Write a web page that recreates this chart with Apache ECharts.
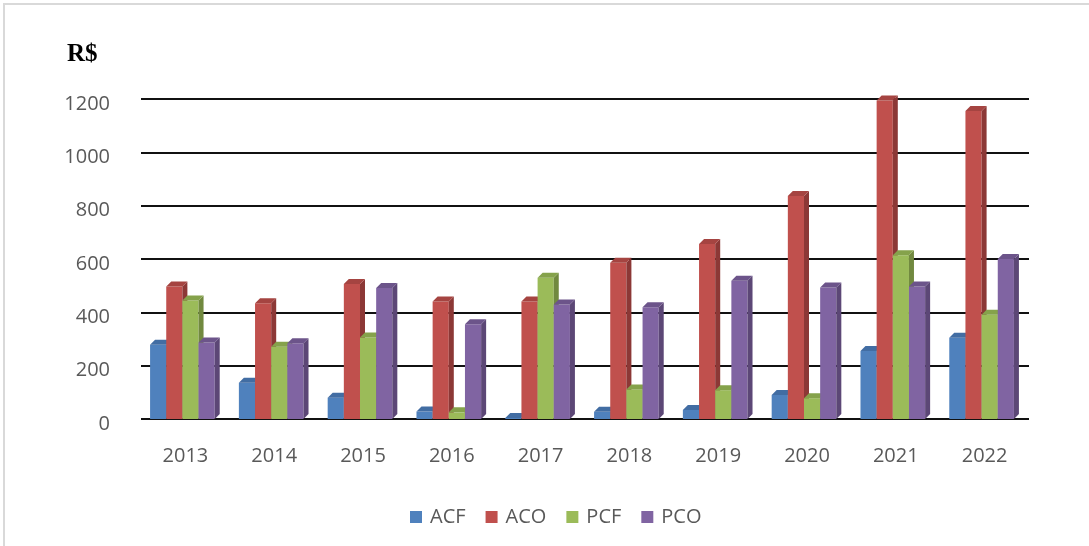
<!DOCTYPE html>
<html>
<head>
<meta charset="utf-8">
<script src="https://cdn.jsdelivr.net/npm/echarts@6/dist/echarts.min.js"></script>
<style>
  html, body { margin: 0; padding: 0; background: #fff; }
  #chart { position: absolute; left: 3px; top: 3px; width: 1086px; height: 543px;
           border-left: 2px solid #d9d9d9; border-top: 2px solid #d9d9d9; }
</style>
</head>
<body>
<div id="chart"></div>
<script>
// data
var years = ['2013', '2014', '2015', '2016', '2017', '2018', '2019', '2020', '2021', '2022'];
var acf = [278, 136, 80, 28, 4, 27, 34, 90, 255, 305];
var aco = [497, 434, 506, 441, 441, 586, 656, 836, 1194, 1155];
var pcf = [444, 271, 306, 25, 530, 111, 108, 78, 614, 391];
var pco = [287, 284, 491, 355, 429, 419, 518, 493, 497, 600];
var names = ['ACF', 'ACO', 'PCF', 'PCO'];
var fronts = ['#4F81BD', '#C0504D', '#9BBB59', '#8064A2'];
var sides = ['#385D8A', '#8C3836', '#71893F', '#5C4776'];
var tops = ['#426DA3', '#A54441', '#85A24B', '#6C548A'];

var chart = echarts.init(document.getElementById('chart'));

function bar3d(si) {
  return function (params, api) {
    var x = api.value(0), v = api.value(1);
    var base = api.coord([x, 0]);
    var top = api.coord([x, v]);
    var band = api.size([1, 0])[0];
    var bw = band * 0.182;
    var x0 = base[0] - 2 * bw + si * bw - 3;
    var x1 = x0 + bw;
    var dx = 5, dy = 5;
    return {
      type: 'group',
      children: [
        { type: 'rect', shape: { x: x0, y: top[1], width: bw, height: base[1] - top[1] },
          style: { fill: fronts[si] } },
        { type: 'polygon', shape: { points: [[x1, top[1]], [x1 + dx, top[1] - dy], [x1 + dx, base[1] - dy], [x1, base[1]]] },
          style: { fill: sides[si] } },
        { type: 'polygon', shape: { points: [[x0, top[1]], [x0 + dx, top[1] - dy], [x1 + dx, top[1] - dy], [x1, top[1]]] },
          style: { fill: tops[si] } }
      ]
    };
  };
}

var values = [acf, aco, pcf, pco];
var series = values.map(function (arr, si) {
  return {
    name: names[si],
    type: 'custom',
    renderItem: bar3d(si),
    itemStyle: { color: fronts[si] },
    encode: { x: 0, y: 1 },
    data: arr.map(function (v, i) { return [i, v]; })
  };
});

chart.setOption({
  animation: false,
  title: {
    text: 'R$', left: 57, top: 32,
    textStyle: { fontFamily: 'Liberation Serif', fontWeight: 'bold', fontSize: 25, color: '#000' }
  },
  legend: {
    left: 400, top: 497, icon: 'rect', itemWidth: 12, itemHeight: 12, itemGap: 20,
    data: names,
    textStyle: { fontFamily: 'Open Sans', fontSize: 20, color: '#595959', padding: [0, 0, 0, 3] }
  },
  grid: { left: 136, right: 62, top: 94, bottom: 129 },
  xAxis: {
    type: 'category', data: years,
    axisLine: { show: false }, axisTick: { show: false },
    axisLabel: { margin: 27, fontFamily: 'Open Sans', fontSize: 20, color: '#595959' }
  },
  yAxis: {
    type: 'value', min: 0, max: 1200, interval: 200,
    axisLine: { show: false }, axisTick: { show: false },
    axisLabel: {
      margin: 31, fontFamily: 'Open Sans', fontSize: 20, color: '#595959',
      verticalAlign: 'top', lineHeight: 10,
      formatter: function (v) { return String(v); }
    },
    splitLine: { lineStyle: { color: '#111', width: 2 } }
  },
  series: series
});
</script>
</body>
</html>
